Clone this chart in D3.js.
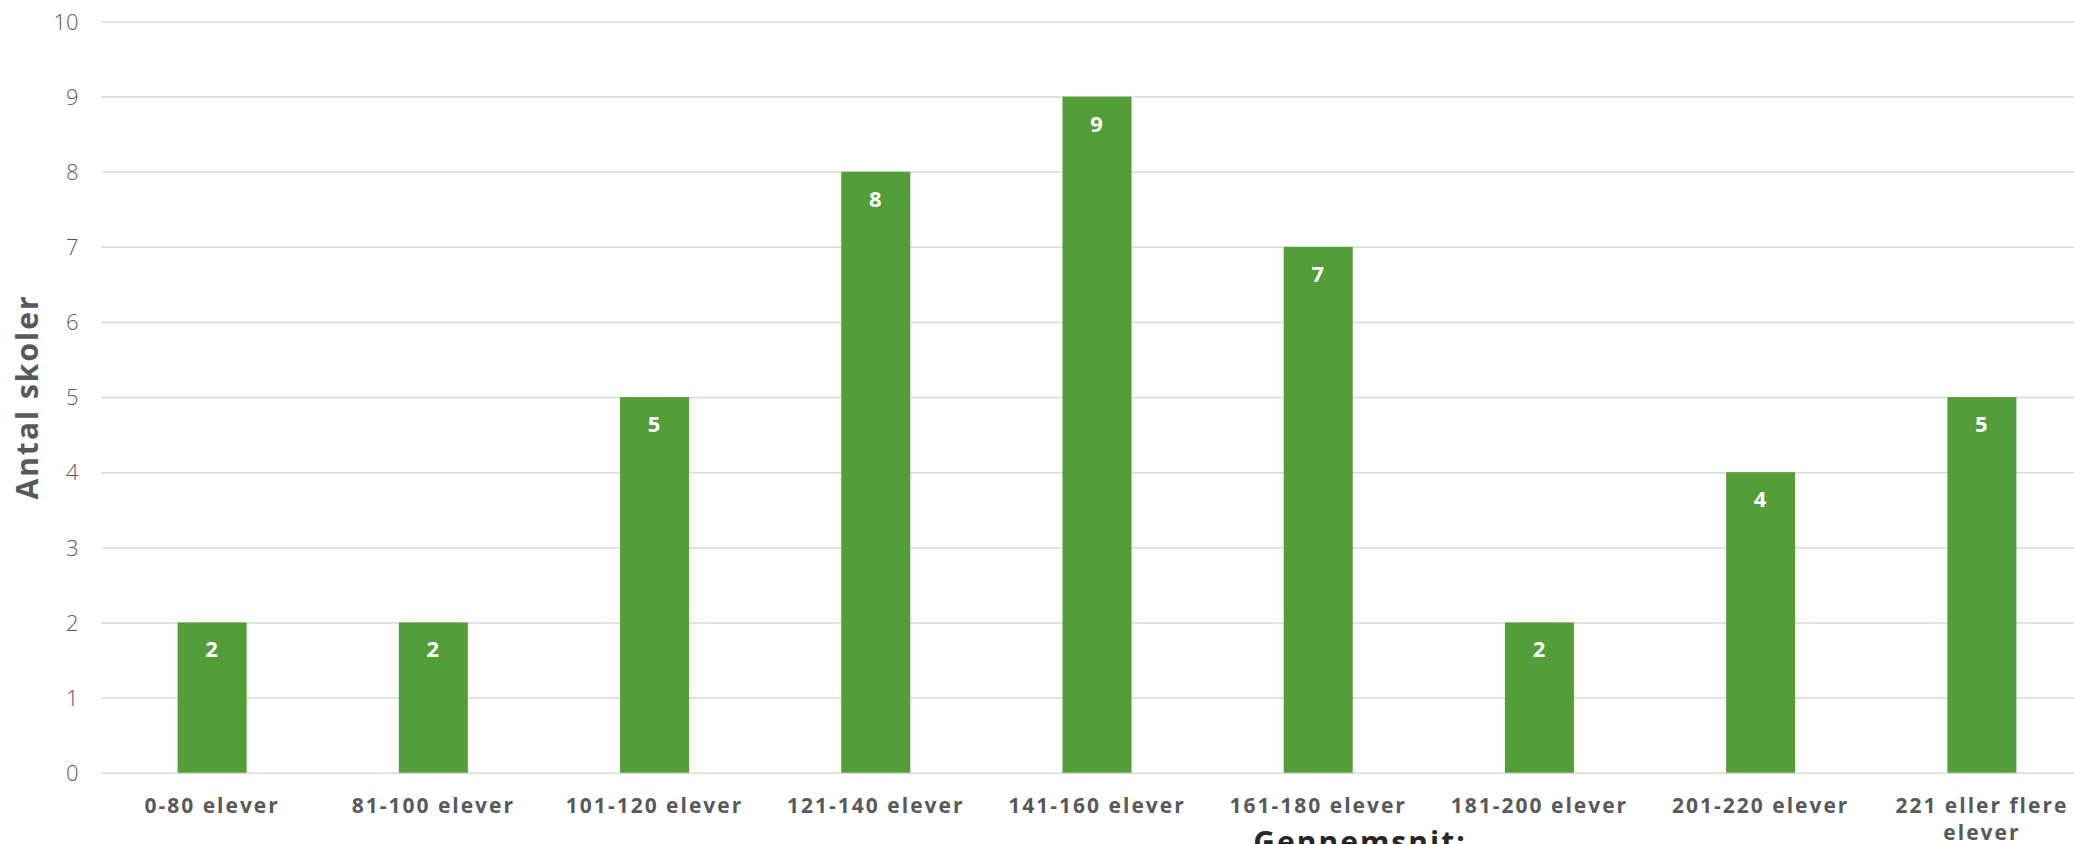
<!DOCTYPE html>
<html>
<head>
<meta charset="utf-8">
<script src="https://cdn.jsdelivr.net/npm/d3@7"></script>
<style>
  html, body { margin: 0; padding: 0; background: #ffffff; }
  svg { display: block; }
  text { font-family: "Open Sans", "DejaVu Sans", sans-serif; }
</style>
</head>
<body>
<svg id="chart" width="2074" height="844"></svg>
<script>
const categories = ["0-80 elever", "81-100 elever", "101-120 elever", "121-140 elever", "141-160 elever", "161-180 elever", "181-200 elever", "201-220 elever", "221 eller flere elever"];
const values = [2, 2, 5, 8, 9, 7, 2, 4, 5];
const yTicks = [0, 1, 2, 3, 4, 5, 6, 7, 8, 9, 10];
const yTitle = "Antal skoler";
const xTitle = "Gennemsnit:";

(function () {
const W = 2074, H = 844;
const pLeft = 101.5, pRight = 2092.5, pTop = 21.5, pBottom = 772.7;

const svg = d3.select("#chart");

const x = d3.scaleBand().domain(categories).range([pLeft, pRight]).paddingInner(0.688).paddingOuter(0.344);
const y = d3.scaleLinear().domain([0, 10]).range([pBottom, pTop]);

// gridlines + y axis
const yAxis = d3.axisLeft(y).tickValues(yTicks).tickSize(-(W - pLeft)).tickPadding(23).tickFormat(d3.format("d"));
const gy = svg.append("g").attr("transform", `translate(${pLeft},0)`).call(yAxis);
gy.select(".domain").remove();
gy.selectAll(".tick line").attr("stroke", "#d9d9d9").attr("stroke-width", 1.5);
gy.selectAll(".tick text").attr("fill", "#595959").attr("font-size", 22).attr("font-weight", 300).attr("dy", "0.35em");

// bars
svg.append("g").selectAll("rect").data(values).join("rect")
  .attr("x", (d, i) => x(categories[i]))
  .attr("y", d => y(d))
  .attr("width", x.bandwidth())
  .attr("height", d => y(0) - y(d))
  .attr("fill", "#539e39");

// value labels
svg.append("g").selectAll("text").data(values).join("text")
  .attr("x", (d, i) => x(categories[i]) + x.bandwidth() / 2)
  .attr("y", d => y(d) + 35)
  .attr("text-anchor", "middle")
  .attr("fill", "#ffffff")
  .attr("font-size", 22)
  .attr("font-weight", 700)
  .attr("letter-spacing", 1)
  .text(d => d);

// category labels (wrapped)
const gx = svg.append("g");
const maxW = 200;
categories.forEach((c) => {
  const cx = x(c) + x.bandwidth() / 2;
  const t = gx.append("text")
    .attr("x", cx)
    .attr("y", 813)
    .attr("text-anchor", "middle")
    .attr("fill", "#595959")
    .attr("font-size", 21)
    .attr("font-weight", 700)
    .attr("letter-spacing", 2);
  const words = c.split(" ");
  let line = [];
  let ts = t.append("tspan").attr("x", cx).attr("dy", 0);
  words.forEach(w => {
    line.push(w);
    ts.text(line.join(" "));
    if (ts.node().getComputedTextLength() > maxW && line.length > 1) {
      line.pop();
      ts.text(line.join(" "));
      line = [w];
      ts = t.append("tspan").attr("x", cx).attr("dy", 27).text(w);
    }
  });
});

// y title
svg.append("text")
  .attr("transform", `translate(38,397) rotate(-90)`)
  .attr("text-anchor", "middle")
  .attr("fill", "#595959")
  .attr("font-size", 30)
  .attr("font-weight", 700)
  .attr("letter-spacing", 2)
  .text(yTitle);

// x title (cut off at bottom)
svg.append("text")
  .attr("x", 1360)
  .attr("y", 853)
  .attr("text-anchor", "middle")
  .attr("fill", "#262626")
  .attr("font-size", 30)
  .attr("font-weight", 700)
  .attr("letter-spacing", 2)
  .text(xTitle);
})();
</script>
</body>
</html>
